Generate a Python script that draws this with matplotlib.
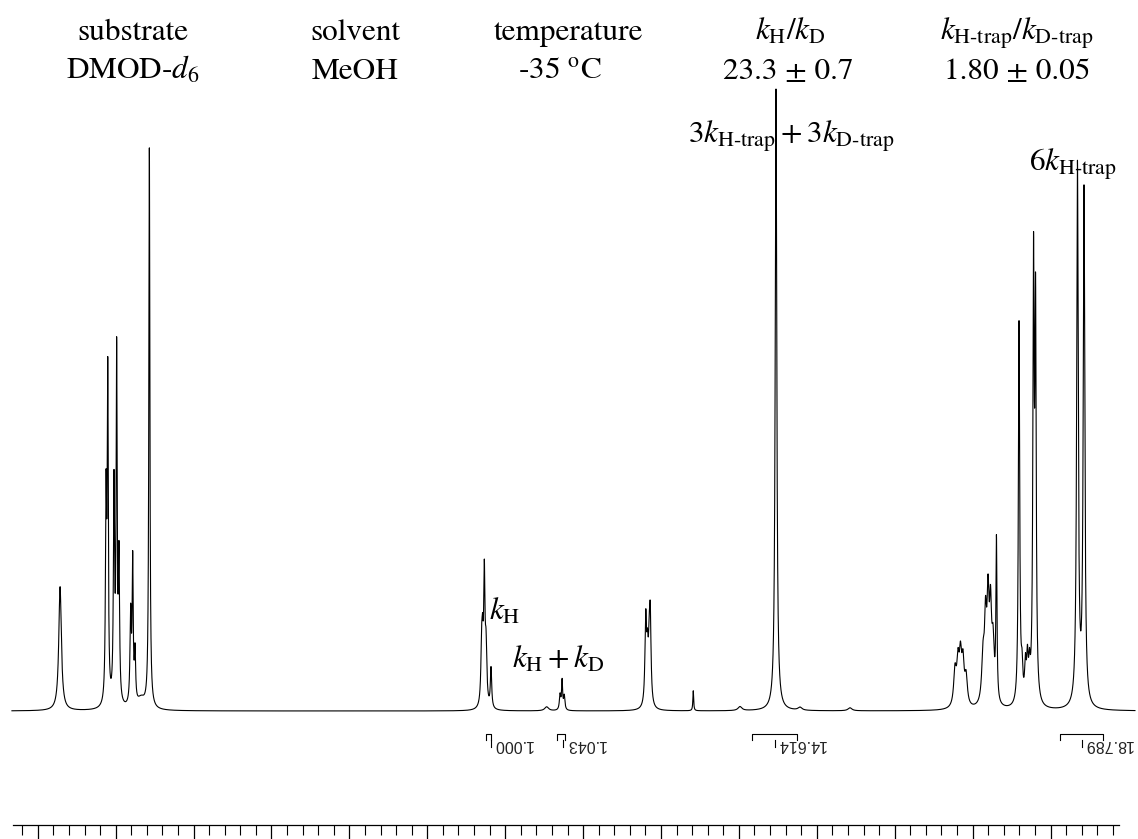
import numpy as np
import matplotlib
matplotlib.use("Agg")
import matplotlib.pyplot as plt
from matplotlib.ticker import FixedLocator, NullFormatter

plt.rcParams['font.family'] = ['STIXGeneral', 'DejaVu Serif']
plt.rcParams['mathtext.fontset'] = 'stix'

# ---------------- data (chemical shift / ppm, intensity a.u., FWHM ppm) -------------
peak_ppm = [6.857, 6.562, 6.551, 6.511, 6.494, 6.479, 6.404, 6.391, 6.376, 6.337, 6.284,
            4.151, 4.145, 4.134, 4.123, 4.091, 3.734, 3.648, 3.635, 3.621,
            3.098, 3.087, 3.076, 3.069, 2.793, 2.493, 2.262, 2.108, 1.787,
            1.113, 1.094, 1.078, 1.062, 1.042, 0.933, 0.917, 0.901, 0.885, 0.869, 0.847,
            0.702, 0.683, 0.661, 0.648, 0.635, 0.609, 0.596, 0.327, 0.285]
peak_int = [124, 200, 320, 215, 345, 140, 90, 140, 50, 10, 560,
            55, 45, 125, 55, 40, 4, 15, 29, 14,
            85, 45, 45, 82, 20, 4, 622, 3, 3,
            35, 40, 45, 40, 28, 45, 75, 95, 85, 55, 160,
            383, 30, 35, 40, 30, 425, 380, 540, 515]
peak_fwhm = [0.020, 0.009, 0.008, 0.009, 0.008, 0.009, 0.010, 0.008, 0.009, 0.060, 0.008,
             0.012, 0.010, 0.010, 0.012, 0.010, 0.030, 0.010, 0.008, 0.010,
             0.012, 0.012, 0.012, 0.012, 0.006, 0.030, 0.012, 0.030, 0.030,
             0.020, 0.018, 0.018, 0.018, 0.020, 0.020, 0.016, 0.016, 0.016, 0.018, 0.008,
             0.010, 0.012, 0.012, 0.012, 0.012, 0.010, 0.010, 0.012, 0.012]

spec_range = (7.166, -0.042)

integral_vals = ["1.000", "1.043", "14.614", "18.789"]
integral_lo = [4.122, 3.667, 2.415, 0.438]
integral_hi = [4.090, 3.616, 2.126, 0.162]
integral_ptr = [4.090, 3.626, 2.268, 0.298]

major_ticks = [7.0, 6.5, 6.0, 5.5, 5.0, 4.5, 4.0, 3.5, 3.0, 2.5, 2.0, 1.5, 1.0, 0.5]
minor_ticks = [round(7.1 - 0.1 * i, 1) for i in range(71)]

header_top = ["substrate", "solvent", "temperature", r"$k_{\mathrm{H}}/k_{\mathrm{D}}$",
              r"$k_{\mathrm{H\text{-}trap}}/k_{\mathrm{D\text{-}trap}}$"]
header_bot = [r"DMOD-$d_6$", "MeOH", r"-35 $^{\mathrm{o}}$C", "23.3 ± 0.7", "1.80 ± 0.05"]

# ---------------- spectrum -------------
x = np.linspace(spec_range[0], spec_range[1], 40000)
y = np.zeros_like(x)
for p, h, w in zip(peak_ppm, peak_int, peak_fwhm):
    y += h / (1.0 + ((x - p) / (w / 2.0)) ** 2)

W, H = 1138, 839
fig = plt.figure(figsize=(W / 100, H / 100), dpi=100)
ax = fig.add_axes([0, 0, 1, 1])
ax.set_xlim(7.2426, -0.0616)
ax.set_ylim(-128, 711)
ax.plot(x, y, color='black', lw=0.8)

for s in ['left', 'right', 'top']:
    ax.spines[s].set_visible(False)
ax.spines['bottom'].set_position(('data', -114))
ax.spines['bottom'].set_bounds(7.159, 0.06)
ax.spines['bottom'].set_linewidth(0.9)
ax.set_yticks([])
ax.xaxis.set_major_locator(FixedLocator(major_ticks))
ax.xaxis.set_minor_locator(FixedLocator(minor_ticks))
ax.xaxis.set_major_formatter(NullFormatter())
ax.xaxis.set_minor_formatter(NullFormatter())
ax.tick_params(axis='x', which='major', direction='out', length=10, width=0.9, color='black')
ax.tick_params(axis='x', which='minor', direction='out', length=7, width=0.8, color='black')

# integrals (printed upside down, as in the original)
for val, lo, hi, ptr in zip(integral_vals, integral_lo, integral_hi, integral_ptr):
    ax.plot([lo, lo, hi, hi], [-29, -23, -23, -29], color='black', lw=0.8)
    ax.plot([ptr, ptr], [-29, -36], color='black', lw=0.8)
    ax.text(ptr - 0.012, -33, val, rotation=180, ha='left', va='center',
            fontsize=11.5, family='Liberation Sans', color='#222222')

# header text
def px(xp, yp):
    return xp / W, 1 - yp / H

hx = [133, 355, 568, 790, 1017]
hx2 = [133, 355, 560, 788, 1017]
for t, xx in zip(header_top, hx):
    fig.text(*px(xx, 40), t, ha='center', va='baseline', fontsize=22.5)
for t, xx in zip(header_bot, hx2):
    fig.text(*px(xx, 79), t, ha='center', va='baseline', fontsize=22.5)

fig.text(*px(791, 143), r"$3k_{\mathrm{H\text{-}trap}} + 3k_{\mathrm{D\text{-}trap}}$",
         ha='center', va='baseline', fontsize=22.5)
fig.text(*px(1073, 171), r"$6k_{\mathrm{H\text{-}trap}}$", ha='center', va='baseline', fontsize=22.5)
fig.text(*px(489, 620), r"$k_{\mathrm{H}}$", ha='left', va='baseline', fontsize=22.5)
fig.text(*px(512, 668), r"$k_{\mathrm{H}} + k_{\mathrm{D}}$", ha='left', va='baseline', fontsize=22.5)

fig.savefig("out.png", dpi=100)
